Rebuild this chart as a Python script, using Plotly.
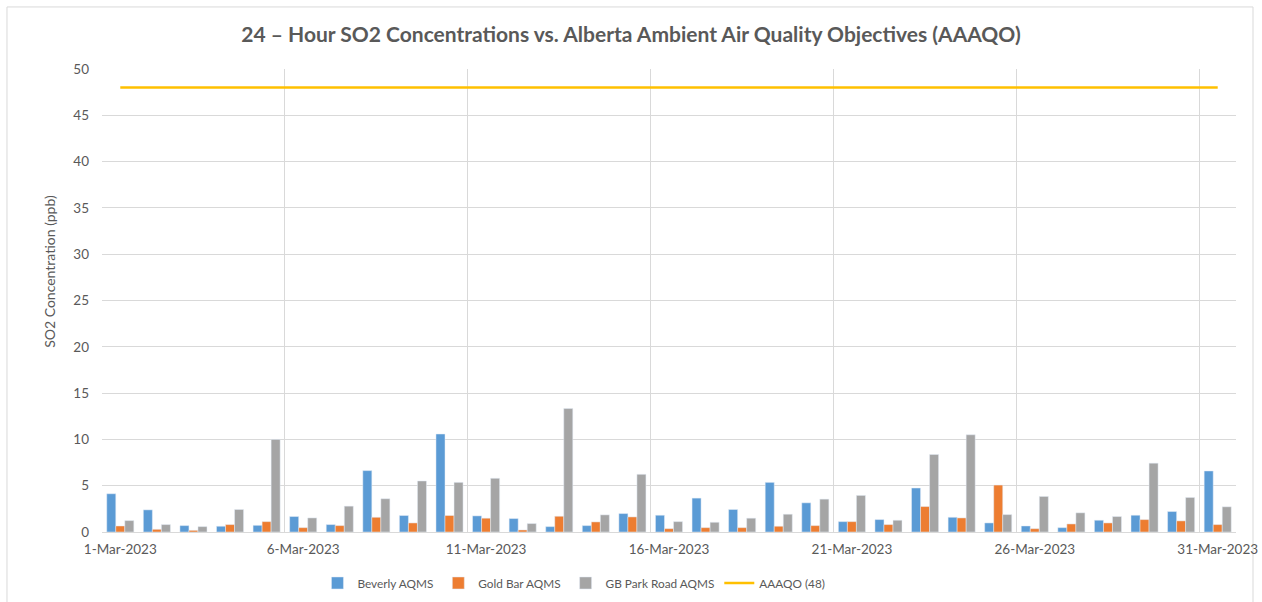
import plotly.graph_objects as go

days = list(range(1, 32))
tick_days = [1, 6, 11, 16, 21, 26, 31]
tick_labels = ["1-Mar-2023", "6-Mar-2023", "11-Mar-2023", "16-Mar-2023",
               "21-Mar-2023", "26-Mar-2023", "31-Mar-2023"]

beverly = [4.13, 2.39, 0.69, 0.62, 0.72, 1.67, 0.80, 6.63, 1.78, 10.58,
           1.74, 1.45, 0.58, 0.69, 1.99, 1.81, 3.66, 2.43, 5.36, 3.15,
           1.12, 1.34, 4.75, 1.59, 0.98, 0.65, 0.47, 1.27, 1.81, 2.21, 6.59]
gold_bar = [0.65, 0.29, 0.18, 0.80, 1.12, 0.47, 0.69, 1.59, 0.98, 1.78,
            1.49, 0.22, 1.70, 1.09, 1.63, 0.36, 0.47, 0.47, 0.62, 0.69,
            1.12, 0.80, 2.75, 1.52, 5.07, 0.36, 0.87, 0.98, 1.34, 1.20, 0.80]
gb_park = [1.23, 0.80, 0.58, 2.43, 10.0, 1.52, 2.79, 3.59, 5.51, 5.36,
           5.80, 0.91, 13.33, 1.85, 6.23, 1.12, 1.05, 1.49, 1.92, 3.55,
           3.95, 1.27, 8.37, 10.5, 1.88, 3.84, 2.07, 1.67, 7.43, 3.73, 2.72]
aaaqo = [48] * 31

FONT = "Lato"
TXT = "#595959"
GRID = "#D9D9D9"

fig = go.Figure()
fig.add_bar(x=days, y=beverly, name="Beverly AQMS", marker_color="#5B9BD5")
fig.add_bar(x=days, y=gold_bar, name="Gold Bar AQMS", marker_color="#ED7D31")
fig.add_bar(x=days, y=gb_park, name="GB Park Road AQMS", marker_color="#A5A5A5")
fig.add_scatter(x=days, y=aaaqo, name="AAAQO (48)", mode="lines",
                line=dict(color="#FFC000", width=2.5))

fig.update_layout(
    width=1262, height=602,
    margin=dict(l=102, r=26, t=69, b=70),
    paper_bgcolor="white", plot_bgcolor="white",
    font=dict(family=FONT, color=TXT, size=13),
    barmode="group", bargap=0.26, bargroupgap=0,
    title=dict(text="<b>24 – Hour SO2 Concentrations vs. Alberta Ambient Air Quality Objectives (AAAQO)</b>",
               x=0.5, xanchor="center", y=0.942, yanchor="middle",
               font=dict(family=FONT, size=21, color=TXT)),
    legend=dict(orientation="h", x=0.19, xanchor="left",
                yref="container", y=0.0316, yanchor="middle",
                font=dict(size=11.8, color=TXT), itemwidth=30, tracegroupgap=0,
                traceorder="normal"),
    showlegend=True,
)
fig.update_xaxes(
    range=[0.5, 31.5], tickmode="array", tickvals=tick_days, ticktext=tick_labels,
    showgrid=False, zeroline=False, showline=False, ticks="", automargin=False,
    tickfont=dict(size=13.5, color=TXT), ticklabelstandoff=7,
    minor=dict(tick0=0.5, dtick=5, showgrid=True, gridcolor=GRID, gridwidth=1, ticks=""),
)
fig.update_yaxes(
    range=[0, 50], dtick=5, showgrid=True, gridcolor=GRID, gridwidth=1,
    zeroline=True, zerolinecolor=GRID, zerolinewidth=1, showline=False, automargin=False,
    tickfont=dict(size=13.5, color=TXT), ticklabelstandoff=12,
)
fig.add_annotation(text="SO2 Concentration (ppb)", xref="paper", yref="paper",
                   x=-0.0459, y=0.564, textangle=-90, showarrow=False,
                   xanchor="center", yanchor="middle",
                   font=dict(size=14, color=TXT, family=FONT))
fig.add_shape(type="rect", xref="paper", yref="paper",
              x0=-0.0838, x1=1.015, y0=-0.17, y1=1.134,
              line=dict(color=GRID, width=1), fillcolor="rgba(0,0,0,0)", layer="below")

fig.write_html("out.html", config={"displayModeBar": False},
               post_script="document.body.style.margin='0';")
